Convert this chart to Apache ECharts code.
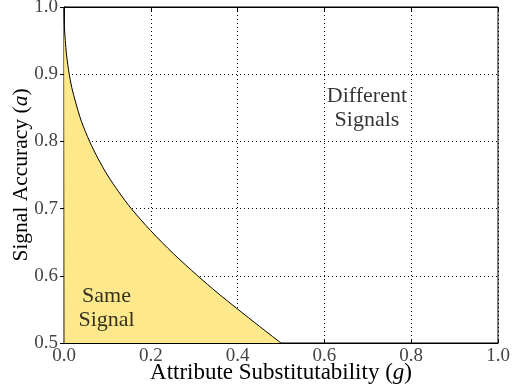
<!DOCTYPE html>
<html>
<head>
<meta charset="utf-8">
<script src="https://cdn.jsdelivr.net/npm/echarts@6/dist/echarts.min.js"></script>
<style>
  html, body { margin: 0; padding: 0; background: #fff; }
  #main { width: 524px; height: 392px; }
</style>
</head>
<body>
<div id="main"></div>
<script>
// boundary curve
const gValues = [0, 0.001, 0.003, 0.0056, 0.012, 0.018, 0.026, 0.04, 0.059, 0.078, 0.1, 0.126, 0.155, 0.2, 0.252, 0.308, 0.353, 0.401, 0.45, 0.5];
const aValues = [1.0, 0.97, 0.95, 0.93, 0.9, 0.88, 0.86, 0.83, 0.8, 0.775, 0.75, 0.725, 0.7, 0.667, 0.633, 0.6, 0.575, 0.55, 0.525, 0.5];

// region labels (position in data coords)
const regionLabels = [
  { text: "Different\nSignals", g: 0.698, a: 0.850 },
  { text: "Same\nSignal", g: 0.098, a: 0.5525 }
];

const FONT = "Liberation Serif";
const tickColor = "#444";

const chart = echarts.init(document.getElementById("main"));

const curve = gValues.map((g, i) => [g, aValues[i]]);

const tickFmt = v => v.toFixed(1);

const option = {
  animation: false,
  grid: {
    left: 64, right: 26, top: 7, bottom: 49,
    outerBoundsMode: "none", containLabel: false,
    show: true, borderColor: "#000", borderWidth: 1
  },
  xAxis: [
    {
      type: "value", min: 0, max: 1, interval: 0.2,
      name: "Attribute Substitutability ({i|g})",
      nameLocation: "middle", nameGap: 18, nameMoveOverlap: false,
      nameTextStyle: {
        fontFamily: FONT, fontSize: 23, color: "#000",
        rich: { i: { fontFamily: FONT, fontSize: 23, fontStyle: "italic", color: "#000" } }
      },
      axisLine: { show: true, lineStyle: { color: "#000", width: 1 } },
      axisTick: { show: true, inside: true, length: 4, lineStyle: { color: "#000" } },
      axisLabel: { formatter: tickFmt, fontFamily: FONT, fontSize: 19, color: tickColor, margin: 4 },
      splitLine: { show: true, lineStyle: { color: "#000", type: [1, 3], width: 1 } }
    },
    {
      type: "value", min: 0, max: 1, interval: 0.2, position: "top",
      axisLine: { show: true, lineStyle: { color: "#000" } },
      axisTick: { show: true, inside: true, length: 4, lineStyle: { color: "#000" } },
      axisLabel: { show: false },
      splitLine: { show: false }
    }
  ],
  yAxis: [
    {
      type: "value", min: 0.5, max: 1, interval: 0.1,
      name: "Signal Accuracy ({i|a})",
      nameLocation: "middle", nameGap: 32, nameMoveOverlap: false,
      nameTextStyle: {
        fontFamily: FONT, fontSize: 21.5, color: "#000",
        rich: { i: { fontFamily: FONT, fontSize: 21.5, fontStyle: "italic", color: "#000" } }
      },
      axisLine: { show: true, lineStyle: { color: "#000", width: 1 } },
      axisTick: { show: true, inside: true, length: 4, lineStyle: { color: "#000" } },
      axisLabel: { formatter: tickFmt, fontFamily: FONT, fontSize: 19, color: tickColor, margin: 6 },
      splitLine: { show: true, lineStyle: { color: "#000", type: [1, 3], width: 1 } }
    },
    {
      type: "value", min: 0.5, max: 1, interval: 0.1, position: "right",
      axisLine: { show: true, lineStyle: { color: "#000" } },
      axisTick: { show: true, inside: true, length: 4, lineStyle: { color: "#000" } },
      axisLabel: { show: false },
      splitLine: { show: false }
    }
  ],
  series: [
    {
      type: "line",
      data: curve,
      showSymbol: false,
      smooth: 0.3,
      lineStyle: { color: "#000", width: 1 },
      areaStyle: { color: "#fde98b", opacity: 1, origin: "start" },
      z: 1
    },
    {
      type: "scatter",
      symbolSize: 0,
      silent: true,
      data: regionLabels.map(d => ({ value: [d.g, d.a], label: { formatter: d.text } })),
      label: {
        show: true, position: "inside",
        fontFamily: FONT, fontSize: 22, color: "#000", lineHeight: 24, align: "center"
      },
      z: 5
    }
  ]
};

chart.setOption(option);
</script>
</body>
</html>
